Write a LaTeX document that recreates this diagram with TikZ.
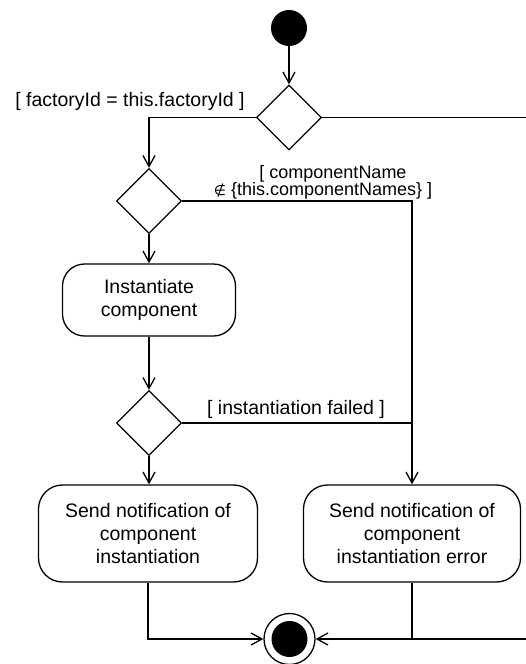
\documentclass[tikz,border=0pt]{standalone}
\usepackage{fontspec}
\setmainfont{Liberation Sans}
\newfontfamily\symfont{DejaVu Sans}
\usetikzlibrary{positioning,shapes.geometric,arrows.meta}
\tikzset{
  wire/.style={line width=1.3pt},
  flow/.style={wire,-{Straight Barb[length=11pt,width=12pt]}},
  actbox/.style={draw,line width=1.3pt,rounded corners=24pt,align=center,minimum height=97pt,inner sep=4pt},
  choice/.style={draw,line width=1.3pt,diamond,aspect=1,minimum size=65pt,inner sep=0pt},
  guard/.style={align=center,inner sep=0pt},
}

\begin{document}
\begin{tikzpicture}[x=1pt,y=-1pt,font=\fontsize{19.5}{23}\selectfont]
\useasboundingbox (0,0) rectangle (525,664);
% start and decisions
\node[circle,fill,minimum size=36pt,inner sep=0pt] (start) at (289,28) {};
\node[choice] (d1) at (289,117.5) {};
\node[choice] (d2) at (149,201) {};
\node[actbox,minimum width=173pt,minimum height=72pt,rounded corners=22pt] (inst) at (149,300) {Instantiate\\component};
\node[choice] (d3) at (149,423) {};
\node[actbox,minimum width=219pt] (ok) at (148,533.5) {Send notification of\\component\\instantiation};
\node[actbox,minimum width=217pt] (err) at (412,533.5) {Send notification of\\component\\instantiation error};
% final node
\node[circle,draw,line width=1.3pt,minimum size=51pt,inner sep=0pt] (final) at (289.5,639) {};
\node[circle,fill,minimum size=36pt,inner sep=0pt] (finaldot) at (final) {};
% guards
\node[guard] (g1) at (130,101) {[ factoryId = this.factoryId ]};
\node[guard,font=\fontsize{18}{17.5}\selectfont] (g2) at (323,182.5) {\hspace*{20pt}[ componentName\\{\symfont\fontsize{14}{17}\selectfont ∉} \{this.componentNames\} ]};
\node[guard] (g3) at (296,409) {[ instantiation failed ]};
\coordinate (farup) at (545,117.5);
\coordinate (fardown) at (545,639);
% flows
\draw[flow] (start) -- (d1);
\draw[flow] (d1.west) -| (d2.north);
\draw[flow] (d2) -- (inst);
\draw[flow] (d2.east) -| (err.north);
\draw[flow] (inst) -- (d3);
\draw[flow] (d3.south) -- (d3.south |- ok.north);
\draw[wire] (d3.east) -- (d3.east -| err.north);
\draw[flow] (ok.south) |- (final.west);
\draw[wire] (err.south) -- (err.south |- final);
\draw[flow] (d1.east) -- (farup) -- (fardown) -- (final.east);
\end{tikzpicture}
\end{document}
